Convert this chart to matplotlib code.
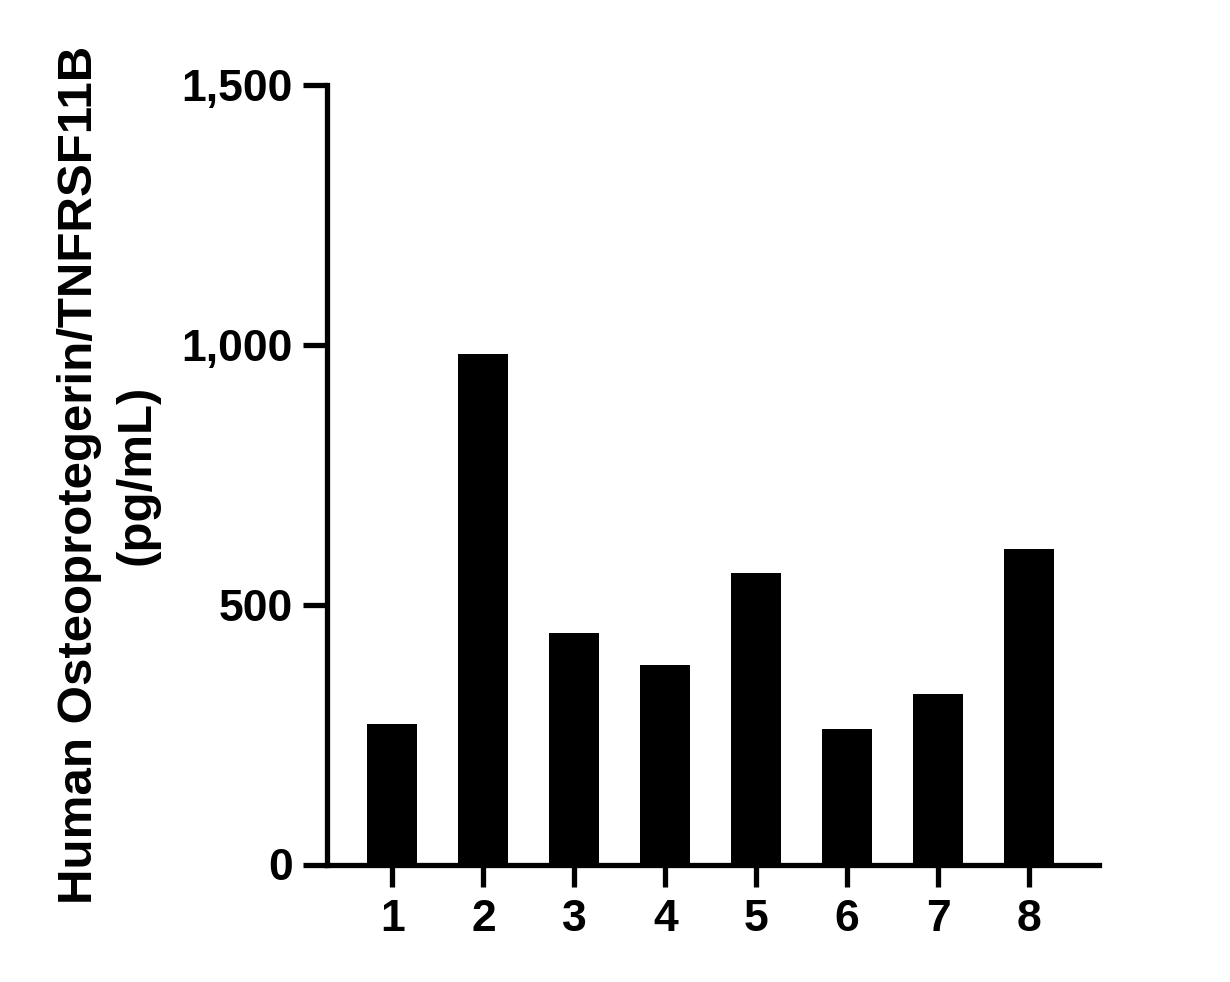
import matplotlib
matplotlib.use("Agg")
import matplotlib.pyplot as plt
from matplotlib.ticker import FuncFormatter

categories = ["1", "2", "3", "4", "5", "6", "7", "8"]
values = [270, 982, 445, 384, 561, 261, 328, 608]
yticks = [0, 500, 1000, 1500]
ylabel = "Human Osteoprotegerin/TNFRSF11B\n(pg/mL)"

plt.rcParams['font.family'] = ['Liberation Sans', 'DejaVu Sans']
plt.rcParams['font.weight'] = 'bold'

fig = plt.figure(figsize=(12.30, 9.82), dpi=100)
ax = fig.add_axes([327/1230, 1 - 864.5/982, (1099 - 327)/1230, (864.5 - 85)/982])

x = list(range(1, len(categories) + 1))
ax.bar(x, values, width=0.55, color='black', edgecolor='none')

ax.set_xlim(0.28, 8.77)
ax.set_ylim(0, 1500)
ax.set_xticks(x)
ax.set_xticklabels(categories)
ax.set_yticks(yticks)
ax.yaxis.set_major_formatter(FuncFormatter(lambda v, p: f"{int(v):,}"))

for s in ['top', 'right']:
    ax.spines[s].set_visible(False)
for s in ['left', 'bottom']:
    ax.spines[s].set_linewidth(3.8)
    ax.spines[s].set_capstyle('projecting')

ax.tick_params(axis='both', direction='out', width=3.8, labelsize=32)
ax.tick_params(axis='y', length=17.5, pad=7)
ax.tick_params(axis='x', length=16, pad=9)
for lab in ax.get_xticklabels() + ax.get_yticklabels():
    lab.set_fontweight('bold')

ax.set_ylabel(ylabel, fontsize=35.5, fontweight='bold', labelpad=16, linespacing=1.35)

fig.savefig("out.png", dpi=100, facecolor='white')
